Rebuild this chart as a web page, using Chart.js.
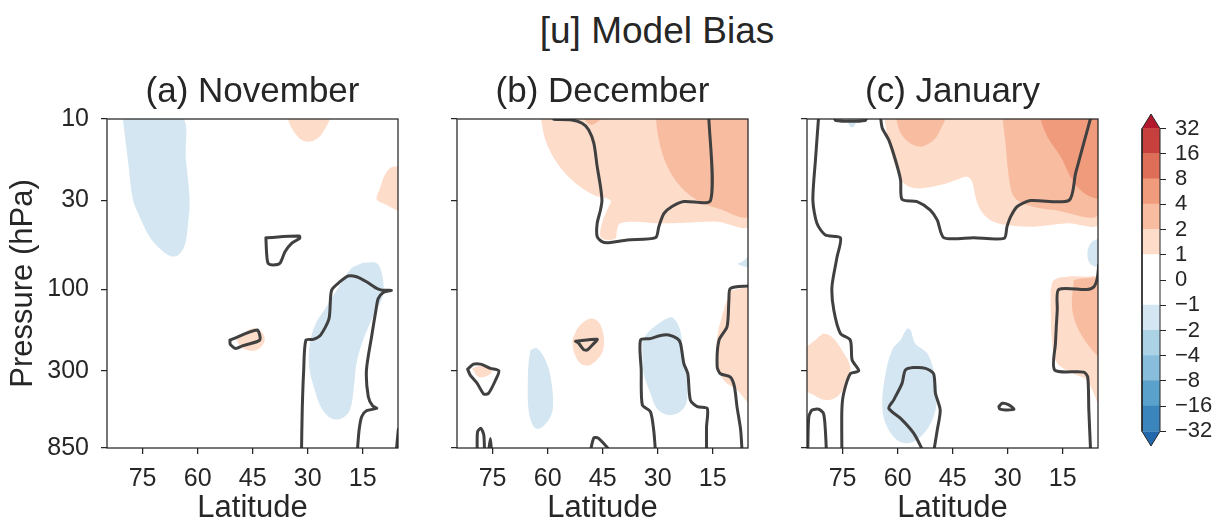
<!DOCTYPE html>
<html>
<head>
<meta charset="utf-8">
<script src="https://cdn.jsdelivr.net/npm/chart.js@4.4.0/dist/chart.umd.min.js"></script>
<style>
  body { margin: 0; background: #fff; width: 1220px; height: 521px; position: relative; overflow: hidden;
         font-family: 'Liberation Sans', Arial, sans-serif; }
  .box { position: absolute; }
  #suptitle { position: absolute; left: 407px; width: 500px; top: 12px; text-align: center;
              font-size: 37px; line-height: 37px; color: #262626; }
</style>
</head>
<body>
<div id="suptitle">[u] Model Bias</div>
<div class="box" style="left:0px;top:60px"><canvas id="nov" width="420" height="461"></canvas></div>
<div class="box" style="left:447px;top:60px"><canvas id="dec" width="321" height="461"></canvas></div>
<div class="box" style="left:797px;top:60px"><canvas id="jan" width="321" height="461"></canvas></div>
<div class="box" style="left:1128px;top:100px"><canvas id="cbar" width="92" height="360"></canvas></div>
<script>
// contour levels of the bias (m/s) and axis ticks
const levels = [-32, -16, -8, -4, -2, -1, 0, 1, 2, 4, 8, 16, 32];
const latTicks = [75, 60, 45, 30, 15];
const pressureTicks = [10, 30, 100, 300, 850];

// regions, as [latitude, hPa] outlines
// (a) November
const novBlueNorth = [[80.5,9.5],[64.6,9.5],[63.2,17.4],[62.2,30],[62.6,40.9],[63.5,54.8],[65.3,62.8],[67.2,63.8],[69.9,58.7],[73.1,49],[75.8,37.4],[77.6,30],[79,17.4],[80.5,9.5]];
const novOrangeTop = [[35.8,9.5],[34.4,11.3],[32.2,13],[30.2,13.6],[28.1,13.3],[25.8,11.9],[24.2,9.5],[35.8,9.5]];
const novOrangeEdge = [[5,19],[7.2,19.2],[9,21.3],[10.3,25.5],[11.2,29.6],[8.5,31.9],[5,33.9],[5,19]];
const novOrangeBlob = [[49.4,198],[47.6,181],[44.9,169],[42.6,177],[41.7,198],[43.1,221],[45.3,229],[48.1,218],[49.4,198]];
const novBlueSouth = [[14.9,69.6],[11.2,70.2],[9.6,84.1],[9.6,110],[12.2,144],[14.9,198],[16.7,271],[17.4,371],[18.5,509],[20.8,570],[23.5,570],[26.2,498],[28.1,388],[29.6,284],[29.4,207],[27.8,158],[24.9,126],[21.2,94.1],[18.1,75.1],[14.9,69.6]];
const novLoopMid = [[41.4,49.7],[32.3,48.6],[32.2,50.1],[34.4,53.6],[36.2,60],[37.6,70.2],[39.4,71.8],[40.8,70.2],[41.2,61.3],[41.4,49.7]];
const novLoopSmall = [[51.2,198],[43.8,173],[43.1,198],[47.8,214],[49.6,222],[51.1,210],[51.2,198]];
const novLineJet = [[31.7,900],[31.5,509],[31.1,297],[30.5,198],[28.5,196],[26.5,185],[24.2,148],[23.5,101],[21.2,90],[19,83.3],[16.7,84.1],[14,90],[11.2,98.4],[9.6,101],[7.2,101],[9.4,104],[10.8,113],[11.4,132],[12.6,189],[14,297],[13.5,425],[12.3,482],[11.2,498],[14,514],[15.3,557],[16,667],[16.5,900]];
const novLineEdge = [[5.3,660],[5.9,900]];

// (b) December
const decOrangeLight = [[62,9.5],[60.6,13.3],[57.4,18.2],[52.9,23.3],[47.4,27.9],[42.9,30],[43.8,34.2],[45.2,40.9],[45.6,49],[43.8,51.2],[41.5,50.1],[41.1,44.8],[40.2,40.9],[35.6,40],[30.2,40.9],[22.9,40.6],[13.8,40],[5,41.9],[5,9.5],[62,9.5]];
const decOrangeMid = [[30.6,9.5],[29.7,13.3],[27.4,19],[23.8,24.9],[19.2,30],[13.8,33.4],[5,36.6],[5,9.5],[30.6,9.5]];
const decOrangeCap = [[50.6,9.5],[48.4,10.8],[45.6,10.1],[45.2,9.5],[50.6,9.5]];
const decBlueEdge = [[5,62.8],[7,68.7],[8.2,70.9],[5,73.5],[5,62.8]];
const decOrangeSouth = [[10.2,101],[12,132],[13.8,190],[13.8,271],[12,340],[8.4,388],[5,455],[5,101],[10.2,101]];
const decOrangeBlob = [[53.3,198],[51.5,165],[48.4,148],[46.1,155],[44.7,190],[45.2,236],[48.4,277],[51.1,271],[52.9,230],[53.3,198]];
const decBlueMid = [[34.2,198],[32,173],[28.3,151],[26.1,146],[24.2,165],[23.3,207],[22.4,284],[22,445],[23.8,520],[27,545],[30.2,498],[32,406],[33.8,312],[34.2,225],[34.2,198]];
const decBlueWest = [[64.7,226],[62.9,221],[60.6,259],[59.2,326],[58.5,465],[59.2,557],[62,651],[63.8,637],[65.2,509],[65.4,355],[65.2,271],[64.7,226]];
const decOrangeWest = [[80.6,290],[78.3,281],[75.2,297],[76.1,318],[78.8,326],[80.6,290]];
const decLineNorth = [[58.3,10.05],[53.8,10.1],[50.6,10.6],[48.8,11.6],[47.4,13.9],[46.5,19],[45.6,24.9],[45.2,30],[45.6,34.2],[46.5,40.9],[46.5,49],[45.2,52.4],[43.4,53.1],[38.3,51.2],[30.6,49.7],[29.7,42.8],[28.3,35.8],[26.1,32.6],[22.9,30.5],[15.6,30],[16.1,9.5]];
const decLoopBlob = [[52.4,201],[46.5,196],[47.4,207],[49.2,226],[50.2,225],[51.5,207],[52.4,201]];
const decLoopWest = [[81.8,293],[80.2,274],[78.3,274],[75.6,290],[73.3,300],[74.2,340],[76.1,406],[77.4,410],[79.2,355],[81.1,318],[81.8,293]];
const decLineMid = [[30.6,900],[31.1,667],[32,520],[34.2,475],[34.5,297],[34.7,198],[32,194],[29.2,186],[27,185],[24.7,194],[23.8,207],[22.9,271],[21.8,312],[21.1,445],[19.2,486],[16.5,498],[16.7,637],[16.7,900]];
const decLineEast = [[5,95.3],[10.2,98.5],[10.6,115],[11.1,165],[13.3,198],[13.8,284],[12.9,312],[10.2,326],[9.1,371],[8.4,486],[7.4,667],[7,900]];
const decLineBaseA = [[79.2,900],[79.1,682],[78.2,651],[77.4,714],[77.2,900]];
const decLineBaseB = [[76.1,900],[75.6,747],[75.3,900]];
const decLineBaseC = [[48.4,900],[47.4,740],[46.1,747],[42.6,900]];

// (c) January
const janOrangeLight = [[63.8,9.5],[62.4,13.9],[60.6,19],[58.3,23.8],[54.7,25.5],[48.4,24.4],[42.9,22.3],[41.1,21.8],[39.7,23.3],[38.8,28.6],[37.4,34.2],[34.7,39.2],[30.2,41.9],[22.9,42.8],[13.8,40.9],[5,40.9],[5,9.5],[63.8,9.5]];
const janOrangeMidA = [[60.6,9.5],[59.2,12.1],[56.5,13.9],[53.3,14.5],[50.2,13.3],[48.4,11.6],[47.2,9.5],[60.6,9.5]];
const janOrangeMidB = [[31.5,9.5],[30.6,13.9],[29.7,21.8],[28.3,28.6],[24.7,31.9],[17.4,34.2],[5,35.8],[5,9.5],[31.5,9.5]];
const janOrangeDeep = [[21.5,9.5],[19.2,12.7],[15.6,16.6],[12.9,21.8],[10.2,26.1],[7.4,28.6],[5,28.8],[5,9.5],[21.5,9.5]];
const janOrangeSouth = [[18.3,101],[17.4,88],[13.8,84.1],[8.4,84.1],[5,86],[5,465],[8.4,340],[12,312],[16.5,271],[17.9,207],[18.3,132],[18.3,101]];
const janOrangeSouthMid = [[12,88],[9.3,86],[5,88],[5,242],[8.4,207],[11.1,165],[12.5,126],[12,88]];
const janBlueEdge = [[5,50.1],[7,52.4],[8.2,58.7],[7.9,68.7],[6.1,73.5],[5,71.8],[5,50.1]];
const janOrangeWest = [[86,226],[82.4,198],[80.2,182],[77.9,190],[75.2,226],[72.9,284],[73.8,355],[76.5,425],[79.7,445],[82.9,416],[86,371],[86,226]];
const janBlueMid = [[59.2,198],[57.4,169],[56.5,173],[55.2,207],[52,236],[50.2,297],[49.2,406],[50.2,557],[52.9,698],[56.5,793],[60.2,762],[63.3,610],[64.2,465],[63.3,312],[61.5,226],[59.2,198]];
const janBlueCap = [[74.2,9.5],[72.9,11.1],[72,11.1],[70.6,9.5],[74.2,9.5]];
const janLineNorth = [[64.7,9.5],[64.2,11.3],[62.4,13.3],[60.6,17.4],[59.2,22.8],[58.8,29.6],[54.7,30.5],[51.1,34.2],[49.2,39.2],[47.4,49.7],[39.3,49.7],[31,50.1],[30.2,42.8],[29.2,37.4],[27.4,32.6],[23.8,30.1],[13.3,30],[11.5,20.8],[9.3,13.9],[7.2,9.5]];
const janLineCap = [[77.4,9.5],[76.9,10.2],[68.8,10.2],[68.3,9.5]];
const janLineWest = [[81.5,9.5],[82.4,17.4],[83.1,30],[82,40.9],[79.7,47.9],[75.6,49.7],[76.5,64.3],[77.9,96.3],[77.4,132],[75.6,181],[72.9,198],[72.4,259],[70.6,300],[72.9,312],[74.7,406],[75.2,509],[75.2,900]];
const janLineBase = [[84.5,900],[84.2,557],[83.3,509],[81.5,504],[80.2,533],[79.7,667],[79.4,900]];
const janLoopBlue = [[52.9,900],[55.6,698],[59.2,570],[62.4,498],[61.1,445],[58.8,355],[57.9,297],[55.6,287],[52.4,290],[50.2,312],[49.7,406],[48.4,509],[49.2,667],[50.2,900]];
const janLoopSmall = [[32.4,486],[31.5,465],[29.7,475],[28.3,504],[30.6,509],[32.2,502],[32.4,486]];
const janLineEast = [[5.2,72],[5.6,86],[6.5,96.3],[8.4,100],[16.1,100],[16.5,132],[17,207],[17.2,297],[9.3,305],[8.2,326],[7.9,509],[7.4,900]];

// which level band each region falls in (lower bound of the band)
const novRegions = [[-2, novBlueNorth], [1, novOrangeTop], [1, novOrangeEdge], [1, novOrangeBlob], [-2, novBlueSouth]];
const novContours = [novLoopMid, novLoopSmall, novLineJet, novLineEdge];
const decRegions = [[1, decOrangeLight], [2, decOrangeMid], [2, decOrangeCap], [-2, decBlueEdge], [1, decOrangeSouth],
                    [1, decOrangeBlob], [-2, decBlueMid], [-2, decBlueWest], [1, decOrangeWest]];
const decContours = [decLineNorth, decLoopBlob, decLoopWest, decLineMid, decLineEast, decLineBaseA, decLineBaseB, decLineBaseC];
const janRegions = [[1, janOrangeLight], [2, janOrangeMidA], [2, janOrangeMidB], [4, janOrangeDeep], [1, janOrangeSouth],
                    [2, janOrangeSouthMid], [-2, janBlueEdge], [1, janOrangeWest], [-2, janBlueMid], [-2, janBlueCap]];
const janContours = [janLineNorth, janLineCap, janLineWest, janLineBase, janLoopBlue, janLoopSmall, janLineEast];

// RdBu_r bands, one per interval between levels
const binColors = ['#3a86bc', '#5aa2cb', '#88bedb', '#acd2e6', '#d4e6f1', '#ffffff',
                   '#ffffff', '#fddcc9', '#f8bca0', '#f09b7b', '#de6e58', '#c7403e'];
const underColor = '#2267ac';
const overColor = '#b2182b';
const ink = '#262626';
const lineInk = '#404040';

Chart.defaults.font.family = "'Liberation Sans', Arial, sans-serif";
Chart.defaults.color = ink;

function levelColor(level) { return binColors[levels.indexOf(level)]; }
function depth(level) { const i = levels.indexOf(level); return i >= 6 ? i - 6 : 5 - i; }
function toPoints(pts) { return pts.map(([x, y]) => ({x: x, y: y})); }

// full box around the plot area
const frame = {
  id: 'frame',
  afterDatasetsDraw(chart) {
    const {ctx, chartArea: a} = chart;
    ctx.save();
    ctx.strokeStyle = ink;
    ctx.lineWidth = 1.25;
    ctx.strokeRect(a.left, a.top, a.right - a.left, a.bottom - a.top);
    ctx.restore();
  }
};

// keep label overhang from shrinking the plot area
function noOverhang(s) { s.paddingTop = 0; s.paddingBottom = 0; s.paddingLeft = 0; s.paddingRight = 0; }

function panel(id, title, regions, contours, withLabels) {
  const fills = regions.map(([level, pts]) => ({
    data: toPoints(pts), fill: 'shape', backgroundColor: levelColor(level),
    borderColor: 'transparent', borderWidth: 0, pointRadius: 0, pointHoverRadius: 0,
    tension: 0.35, clip: 0, order: 10 - depth(level)
  }));
  const lines = contours.map(pts => ({
    data: toPoints(pts), fill: false, borderColor: lineInk, borderWidth: 3,
    pointRadius: 0, pointHoverRadius: 0, tension: 0.25, clip: 0, order: 0,
    borderJoinStyle: 'round', borderCapStyle: 'round'
  }));

  new Chart(document.getElementById(id), {
    type: 'line',
    data: {datasets: fills.concat(lines)},
    plugins: [frame],
    options: {
      responsive: false,
      animation: false,
      devicePixelRatio: 1,
      events: [],
      layout: {padding: {left: 0, right: 20 + (withLabels ? 2 : 0), top: 0, bottom: 0}},
      plugins: {
        legend: {display: false},
        tooltip: {enabled: false},
        title: {display: true, text: title, fullSize: false, color: ink,
                font: {size: 35, weight: 'normal'}, padding: {top: 11, bottom: 6}}
      },
      scales: {
        x: {
          type: 'linear', reverse: true, min: 5.4, max: 84.7,
          afterBuildTicks: s => { s.ticks = latTicks.map(v => ({value: v})); },
          afterFit: s => { s.height = 73; noOverhang(s); },
          grid: {display: true, drawOnChartArea: false, drawTicks: true, tickLength: 6, color: ink, lineWidth: 1.25},
          border: {display: false},
          ticks: {font: {size: 25}, color: ink, padding: 10, maxRotation: 0, autoSkip: false, crossAlign: 'near',
                  callback: v => String(v)},
          title: {display: true, text: 'Latitude', color: ink, font: {size: 31, lineHeight: 0.8}, padding: {top: 0, bottom: 0}}
        },
        y: {
          type: 'logarithmic', reverse: true, min: 10, max: 850,
          afterBuildTicks: s => { s.ticks = pressureTicks.map(v => ({value: v})); },
          afterFit: s => { s.width = withLabels ? 107 : 10; noOverhang(s); },
          grid: {display: true, drawOnChartArea: false, drawTicks: true, tickLength: 6, color: ink, lineWidth: 1.25},
          border: {display: false},
          ticks: {display: withLabels, font: {size: 25}, color: ink, padding: 12, autoSkip: false, callback: v => String(v)},
          title: {display: withLabels, text: 'Pressure (hPa)', color: ink, font: {size: 31}, padding: {top: 5, bottom: 0}}
        }
      }
    }
  });
}

panel('nov', '(a) November', novRegions, novContours, true);
panel('dec', '(b) December', decRegions, decContours, false);
panel('jan', '(c) January', janRegions, janContours, false);

// colour bar: one band per level interval, triangles for the extensions
const cbExtend = 0.58;
const nBins = levels.length - 1;
const cbSets = binColors.map((c, i) => ({
  data: toPoints([[0, i], [1, i], [1, i + 1.02], [0, i + 1.02], [0, i]]), fill: 'shape', backgroundColor: c,
  borderColor: 'transparent', borderWidth: 0, pointRadius: 0, clip: 0, order: 5
}));
cbSets.push({
  data: toPoints([[0, 0], [1, 0], [0.5, -cbExtend], [0, 0]]), fill: 'shape', backgroundColor: underColor,
  borderColor: 'transparent', borderWidth: 0, pointRadius: 0, clip: 0, order: 5
});
cbSets.push({
  data: toPoints([[0, nBins], [1, nBins], [0.5, nBins + cbExtend], [0, nBins]]), fill: 'shape', backgroundColor: overColor,
  borderColor: 'transparent', borderWidth: 0, pointRadius: 0, clip: 0, order: 5
});
cbSets.unshift({
  data: toPoints([[0, 0], [0.5, -cbExtend], [1, 0], [1, nBins], [0.5, nBins + cbExtend], [0, nBins], [0, 0]]),
  fill: false, borderColor: ink, borderWidth: 1, pointRadius: 0, clip: 2, order: 0
});

new Chart(document.getElementById('cbar'), {
  type: 'line',
  data: {datasets: cbSets},
  options: {
    responsive: false,
    animation: false,
    devicePixelRatio: 1,
    events: [],
    layout: {padding: {left: 14, right: 0, top: 14, bottom: 14}},
    plugins: {legend: {display: false}, tooltip: {enabled: false}},
    scales: {
      x: {type: 'linear', min: 0, max: 1, display: false},
      y: {
        type: 'linear', position: 'right', min: -cbExtend, max: nBins + cbExtend,
        afterBuildTicks: s => { s.ticks = levels.map((v, i) => ({value: i})); },
        afterFit: s => { s.width = 60; noOverhang(s); },
        grid: {display: true, drawOnChartArea: false, drawTicks: true, tickLength: 6, color: ink, lineWidth: 1},
        border: {display: false},
        ticks: {font: {size: 22}, color: ink, padding: 9, autoSkip: false,
                callback: v => String(levels[v]).replace('-', '\u2212')}
      }
    }
  }
});
</script>
</body>
</html>
